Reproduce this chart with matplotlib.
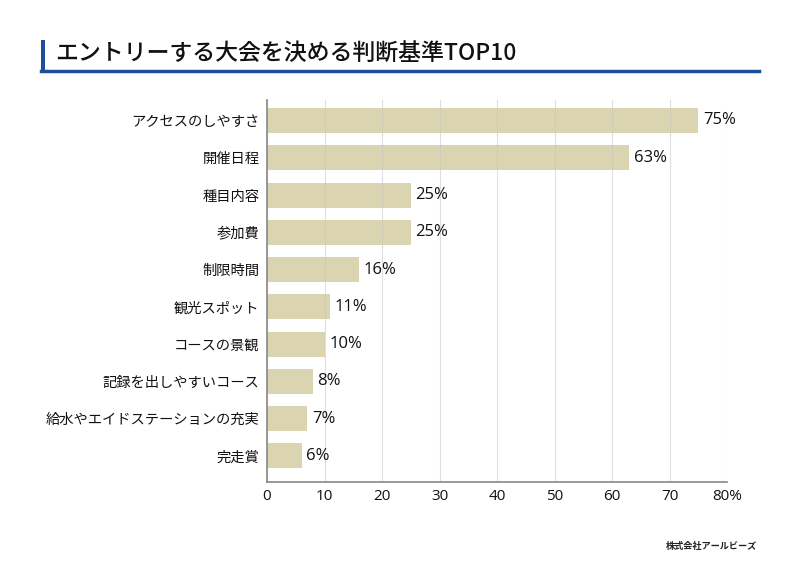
import matplotlib
matplotlib.use("Agg")
import matplotlib.pyplot as plt
from matplotlib.lines import Line2D
from matplotlib.patches import Rectangle

plt.rcParams['font.family'] = ['Noto Sans CJK JP', 'DejaVu Sans']

categories = ["アクセスのしやすさ", "開催日程", "種目内容", "参加費", "制限時間",
              "観光スポット", "コースの景観", "記録を出しやすいコース",
              "給水やエイドステーションの充実", "完走賞"]
values = [75, 63, 25, 25, 16, 11, 10, 8, 7, 6]
xticks = [0, 10, 20, 30, 40, 50, 60, 70, 80]
xtick_labels = ["0", "10", "20", "30", "40", "50", "60", "70", "80%"]
title = "エントリーする大会を決める判断基準TOP10"
credit = "株式会社アールビーズ"

num_font = ['Open Sans', 'DejaVu Sans']

fig = plt.figure(figsize=(8, 5.66), dpi=100)
ax = fig.add_axes([267/800, 1-482/566, 460/800, 382/566])

y = list(range(len(categories)))
ax.barh(y, values, height=0.67, color='#dbd4b1', zorder=2)
ax.set_xlim(0, 80)
ax.set_ylim(len(categories) - 1 + 0.70, -0.55)
ax.set_xticks(xticks)
ax.set_xticklabels(xtick_labels, fontsize=11, family=num_font)
ax.set_yticks(y)
ax.set_yticklabels(categories, fontsize=10.3)
ax.tick_params(axis='both', length=0, colors='#111111')
ax.tick_params(axis='x', pad=5)
ax.tick_params(axis='y', pad=5.5)
ax.grid(axis='x', color='#c8c8c8', linewidth=0.8, alpha=0.6, zorder=3)
ax.set_axisbelow(False)
for s in ['top', 'right']:
    ax.spines[s].set_visible(False)
for s in ['left', 'bottom']:
    ax.spines[s].set_color('#888888')
    ax.spines[s].set_linewidth(1.2)
    ax.spines[s].set_zorder(4)

for yi, v in zip(y, values):
    ax.text(v + 0.8, yi, f"{v}%", va='center', ha='left', fontsize=12, color='#111111',
            family=num_font)

# title decorations
fig.add_artist(Rectangle((41/800, 1-72/566), 4/800, 32/566, transform=fig.transFigure,
                         color='#1f4e99', lw=0))
fig.add_artist(Line2D([41/800, 759/800], [1-70.5/566, 1-70.5/566], transform=fig.transFigure,
                      color='#1f4e99', lw=2.5))
fig.text(55/800, 1-53/566, title, fontsize=16.5, fontweight='medium', va='center', ha='left',
         color='#111111')
fig.text(757/800, 1-546/566, credit, fontsize=6.6, fontweight='bold', style='italic',
         va='center', ha='right', color='#222222')

fig.savefig("out.png", dpi=100)
